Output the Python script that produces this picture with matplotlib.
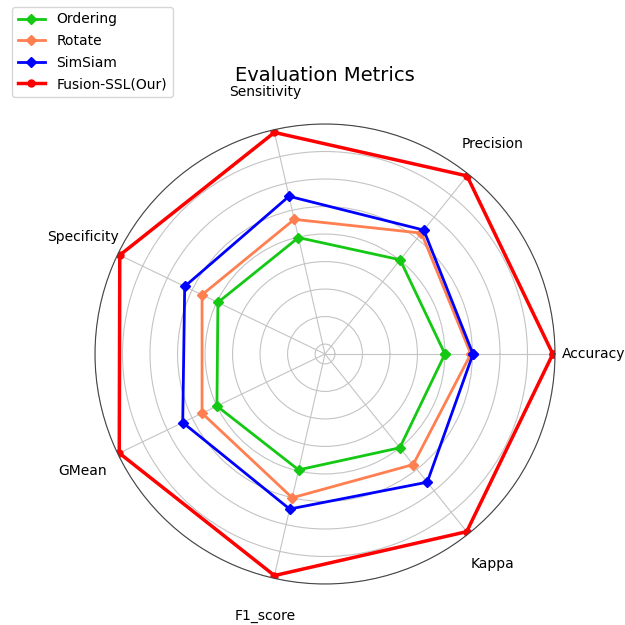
import matplotlib
matplotlib.use('Agg')
import matplotlib.pyplot as plt
import numpy as np

# metrics for each method
labels = ['Accuracy', 'Precision', 'Sensitivity', 'Specificity', 'GMean', 'F1_score', 'Kappa']
ordering = [0.800, 0.801, 0.799, 0.798, 0.800, 0.798, 0.800]
rotate = [0.847, 0.863, 0.833, 0.830, 0.830, 0.850, 0.839]
simsiam = [0.851, 0.870, 0.876, 0.865, 0.869, 0.871, 0.880]
fusion = [0.996, 0.996, 0.995, 0.996, 0.997, 0.995, 0.995]

names = ['Ordering', 'Rotate', 'SimSiam', 'Fusion-SSL(Our)']
colors = ['#14c814', 'coral', 'blue', 'red']
markers = ['D', 'D', 'D', 'o']

n = len(labels)
angles = np.linspace(0, 2 * np.pi, n, endpoint=False)
angles_c = np.concatenate((angles, [angles[0]]))

fig = plt.figure(figsize=(6.25, 6.25), dpi=100)
ax = fig.add_axes([0.152, 0.0656, 0.736, 0.736], polar=True)

for vals, name, c, m in zip([ordering, rotate, simsiam, fusion], names, colors, markers):
    v = np.concatenate((vals, [vals[0]]))
    lw = 2.5 if name.startswith('Fusion') else 2
    ax.plot(angles_c, v, color=c, marker=m, markersize=5, linewidth=lw, label=name)

ax.set_thetagrids(angles * 180 / np.pi, labels, fontsize=10)
ax.tick_params(axis='x', pad=17.5)
ax.set_ylim(0.582, 1.0)
ax.set_yticks(np.arange(0.6, 1.001, 0.05))
ax.set_yticklabels([])
ax.grid(True, color='#c4c4c4')
ax.spines['polar'].set_color('#444444')

ax.set_title('Evaluation Metrics', fontsize=14, y=1.075)
fig.legend(loc='lower left', bbox_to_anchor=(0.0192, 0.845), borderaxespad=0, fontsize=10,
           labelspacing=0.55)

plt.savefig('out.png', dpi=100)
